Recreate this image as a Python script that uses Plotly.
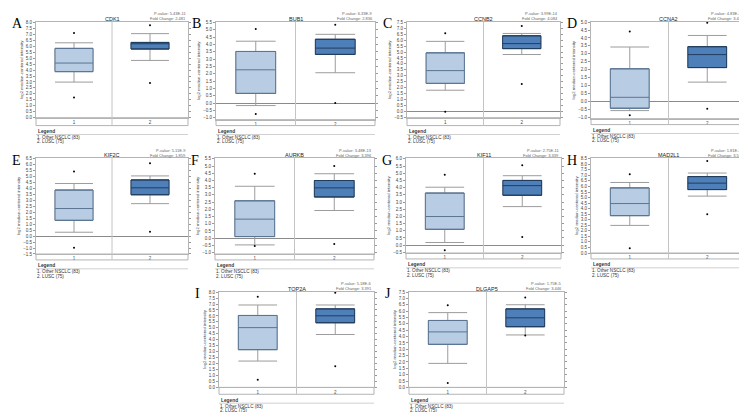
import plotly.graph_objects as go

W, H = 747, 412

genes = ['CDK1', 'BUB1', 'CCNB2', 'CCNA2', 'KIF2C', 'AURKB', 'KIF11', 'MAD2L1', 'TOP2A', 'DLGAP5']
letters = ['A', 'B', 'C', 'D', 'E', 'F', 'G', 'H', 'I', 'J']
p_values = ['5.43E-11', '6.33E-9', '3.99E-14', '4.83E-12', '5.11E-9', '3.48E-13', '2.75E-11', '1.81E-12', '5.18E-6', '1.75E-5']
fold_changes = ['2.481', '2.836', '4.084', '3.481', '1.859', '3.396', '3.339', '3.518', '3.391', '3.446']
groups = ['1', '2']
legend_lines = ['1. Other NSCLC (83)', '2. LUSC (75)']

# group 1: Other NSCLC
other_q1 = [3.87, 0.67, 2.35, -0.44, 1.33, 0.11, 1.10, 3.37, 3.17, 3.39]
other_median = [4.59, 2.28, 3.43, 0.25, 2.32, 1.32, 1.99, 4.46, 5.02, 4.37]
other_q3 = [5.82, 3.53, 4.93, 2.05, 3.87, 2.59, 3.62, 5.87, 6.04, 5.27]
other_low = [2.99, -0.16, 1.77, -0.59, 0.33, -0.47, 0.18, 2.49, 2.21, 1.89]
other_high = [6.29, 4.23, 5.90, 3.43, 4.42, 3.60, 4.03, 6.36, 6.92, 5.89]
other_out = [[7.12, 1.70], [5.06, -0.74], [6.59, -0.05], [4.41, -0.88], [5.44, -0.97],
             [4.47, -0.54], [4.90, -0.36], [7.10, 0.44], [7.61, 0.63], [6.46, 0.34]]

# group 2: LUSC
lusc_q1 = [5.77, 3.33, 5.29, 2.13, 3.48, 2.86, 3.47, 5.72, 5.43, 4.78]
lusc_median = [6.21, 3.76, 5.71, 2.95, 4.06, 3.49, 4.14, 6.30, 6.01, 5.48]
lusc_q3 = [6.32, 4.36, 6.37, 3.45, 4.72, 4.00, 4.50, 6.89, 6.59, 6.18]
lusc_low = [4.81, 2.08, 4.79, 1.21, 2.73, 1.92, 2.68, 5.13, 4.44, 4.13]
lusc_high = [7.06, 4.70, 6.57, 4.16, 5.06, 4.47, 4.83, 7.21, 6.92, 6.51]
lusc_out = [[7.77, 2.91], [5.35, 0.02], [7.20, 2.30], [4.96, -0.48], [6.13, 0.36],
            [5.01, -0.40], [5.55, 0.56], [8.30, 3.49], [7.94, 1.77], [7.08, 4.08]]

# panel frames in pixels: left, top, right, axis bottom, band bottom, y range
frames = [
    (28, 12, 180, 109, 117, [0, 8.05]),
    (208, 12, 367, 111, 117, [-1.12, 5.55]),
    (399, 12, 552, 109, 117, [-0.55, 7.55]),
    (583, 12, 738, 110, 116, [-1.1, 5.02]),
    (28, 150, 180, 247, 253, [-1.5, 6.55]),
    (207, 150, 366, 247, 253, [-1.1, 5.55]),
    (398, 150, 553, 246, 252, [-0.55, 6.05]),
    (583, 150, 738, 246, 252, [0, 8.55]),
    (211, 285, 366, 382, 389, [0, 8.05]),
    (401, 285, 556, 382, 389, [0, 7.55]),
]

FONT = 'Liberation Sans'
EDGE = '#b4b4b4'
WHISK = '#9c9c9c'


def px(x):
    return x / W


def py(y):
    return 1 - y / H


fig = go.Figure()
shapes = []
annotations = []

for i, g in enumerate(genes):
    n = i + 1
    xr = 'x' if n == 1 else f'x{n}'
    yr = 'y' if n == 1 else f'y{n}'
    left, top, right, bot, band, yrange = frames[i]

    stats = [
        (1, other_q1[i], other_median[i], other_q3[i], other_low[i], other_high[i], '#b8cce3', '#5b7592'),
        (2, lusc_q1[i], lusc_median[i], lusc_q3[i], lusc_low[i], lusc_high[i], '#4f7fb8', '#213d5e'),
    ]
    for pos, q1, med, q3, lo, hi, fill, dark in stats:
        # whiskers + caps
        fig.add_trace(go.Box(x=[pos], q1=[q1], median=[med], q3=[q3], lowerfence=[lo], upperfence=[hi],
                             width=0.5, whiskerwidth=1, fillcolor=fill, line=dict(color=WHISK, width=1),
                             xaxis=xr, yaxis=yr, hoverinfo='skip'))
        # box body + median on top
        fig.add_trace(go.Box(x=[pos], q1=[q1], median=[med], q3=[q3], lowerfence=[q1], upperfence=[q3],
                             width=0.5, whiskerwidth=1, fillcolor=fill, line=dict(color=dark, width=1),
                             xaxis=xr, yaxis=yr, hoverinfo='skip'))
    fig.add_trace(go.Scatter(x=[1, 1, 2, 2], y=other_out[i] + lusc_out[i], mode='markers',
                             marker=dict(color='black', size=2), xaxis=xr, yaxis=yr, hoverinfo='skip'))

    xa = 'xaxis' if n == 1 else f'xaxis{n}'
    ya = 'yaxis' if n == 1 else f'yaxis{n}'
    fig.layout[xa] = dict(domain=[px(left), px(right)], anchor=yr, range=[0.5, 2.5],
                          tickvals=[1, 2], ticktext=groups, ticks='', showgrid=False, zeroline=False,
                          showline=True, mirror=True, linecolor=EDGE, linewidth=1,
                          tickfont=dict(size=4.5, color='#444', family=FONT))
    fig.layout[ya] = dict(domain=[py(bot), py(top)], anchor=xr, range=yrange, tick0=0, dtick=0.5,
                          tickformat='.1f', ticks='outside', ticklen=2, tickcolor='#999',
                          showline=True, mirror='ticks', linecolor=EDGE, linewidth=1,
                          showgrid=False, zeroline=True, zerolinecolor='#8a8a8a', zerolinewidth=1,
                          tickfont=dict(size=4.5, color='#444', family=FONT),
                          title=dict(text='log2 median-centered intensity', standoff=2,
                                     font=dict(size=4.3, color='#444', family=FONT)))

    # label band under the plot and the group divider
    shapes.append(dict(type='rect', xref='paper', yref='paper', x0=px(left), x1=px(right),
                       y0=py(band), y1=py(bot), line=dict(color=EDGE, width=1)))
    shapes.append(dict(type='line', xref=xr, yref='paper', x0=1.5, x1=1.5, y0=py(band), y1=py(top),
                       line=dict(color='#c4c4c4', width=1)))

    # gene title, stats, panel letter
    annotations.append(dict(x=px((left + right) / 2), y=py(top - 3), xref='paper', yref='paper',
                            text=g, showarrow=False, xanchor='center', yanchor='middle',
                            font=dict(size=5.5, color='#222', family=FONT)))
    annotations.append(dict(x=px(right), y=py(top - 8), xref='paper', yref='paper',
                            text=f'P-value: {p_values[i]}', showarrow=False, xanchor='right', yanchor='middle',
                            font=dict(size=4, color='#666', family=FONT)))
    annotations.append(dict(x=px(right), y=py(top - 3), xref='paper', yref='paper',
                            text=f'Fold Change: {fold_changes[i]}', showarrow=False, xanchor='right',
                            yanchor='middle', font=dict(size=4, color='#666', family=FONT)))
    annotations.append(dict(x=px(left - 26), y=py(top + 2), xref='paper', yref='paper',
                            text=letters[i], showarrow=False, xanchor='left', yanchor='middle',
                            font=dict(size=14, color='black', family='Liberation Serif')))

    # legend block
    annotations.append(dict(x=px(left), y=py(band + 6), xref='paper', yref='paper',
                            text='<b>Legend</b>', showarrow=False, xanchor='left', yanchor='middle',
                            font=dict(size=4.8, color='#333', family=FONT)))
    shapes.append(dict(type='line', xref='paper', yref='paper', x0=px(left), x1=px(right),
                       y0=py(band + 9), y1=py(band + 9), line=dict(color='#d0d0d0', width=1)))
    for k, line in enumerate(legend_lines):
        annotations.append(dict(x=px(left), y=py(band + 12 + 4.5 * k), xref='paper', yref='paper',
                                text=line, showarrow=False, xanchor='left', yanchor='middle',
                                borderpad=0, font=dict(size=4.6, color='#333', family=FONT)))

fig.update_layout(width=W, height=H, margin=dict(l=0, r=0, t=0, b=0), showlegend=False,
                  paper_bgcolor='white', plot_bgcolor='white', shapes=shapes, annotations=annotations)

fig.write_html('out.html')
